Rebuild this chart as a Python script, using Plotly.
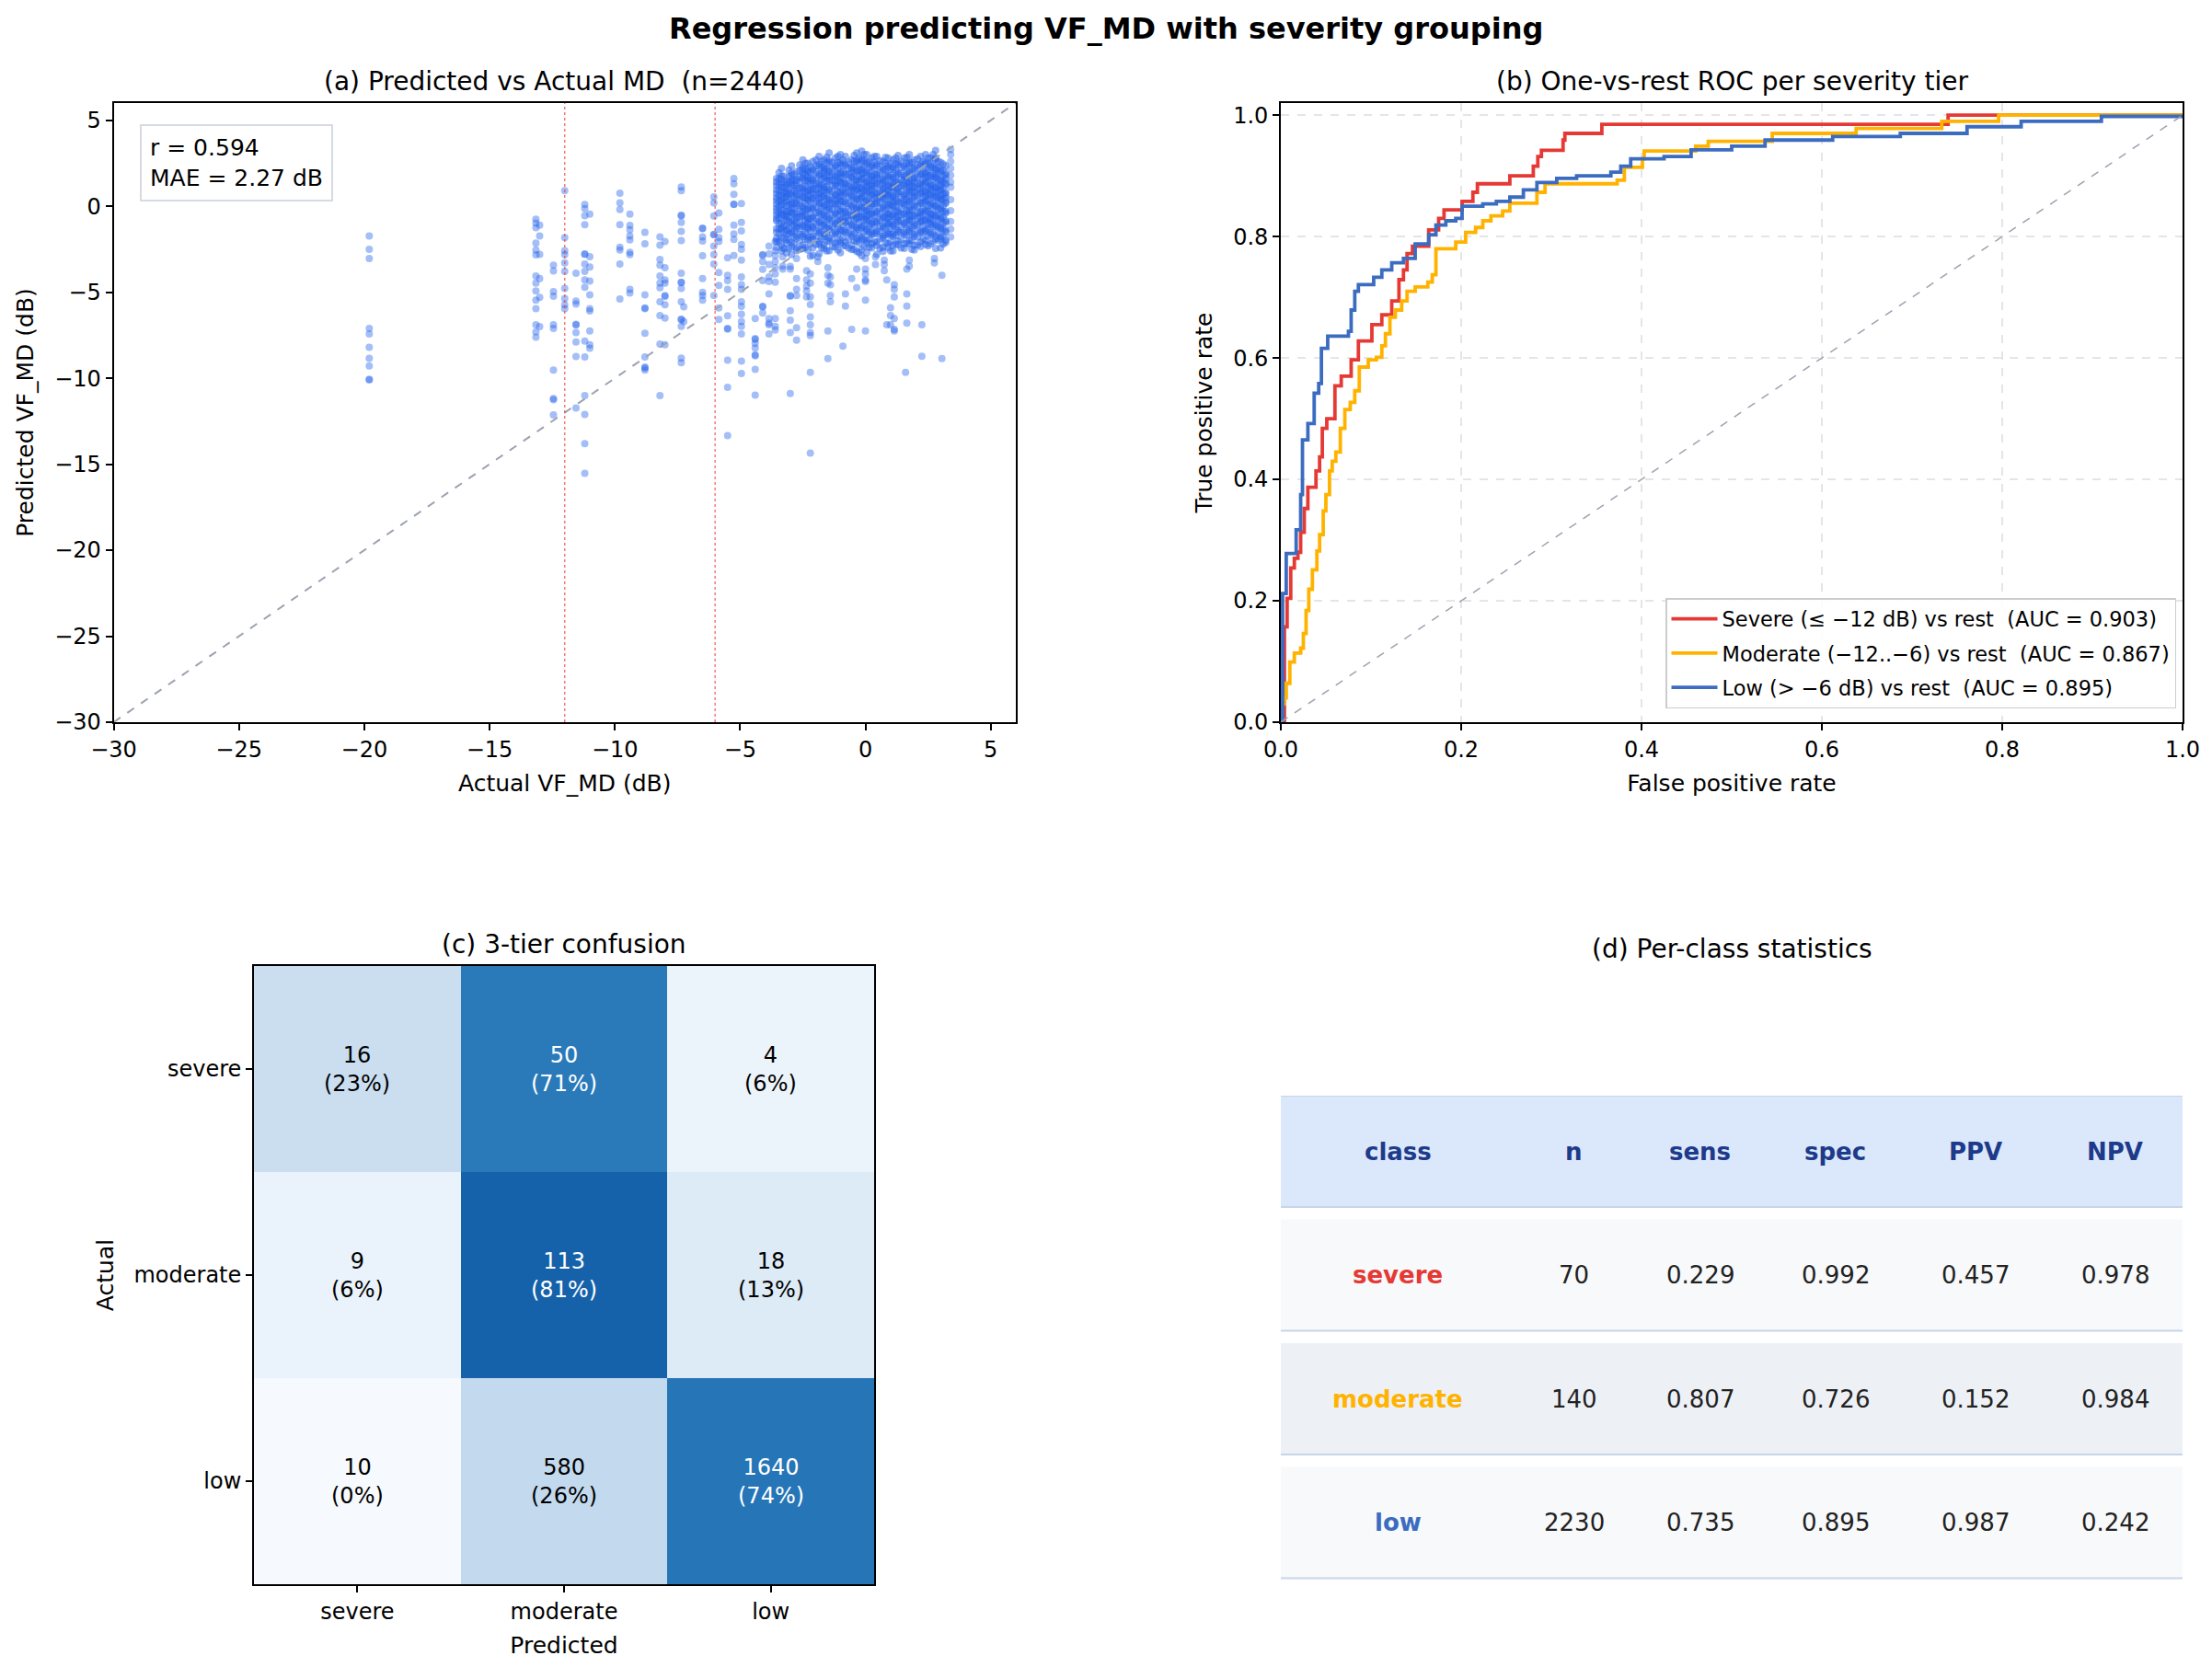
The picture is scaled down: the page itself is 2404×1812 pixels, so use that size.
"""Regression predicting VF_MD with severity grouping: scatter, ROC, confusion, stats table."""
import plotly.express as px
import plotly.graph_objects as go

W, H = 2404, 1812
FONT = "DejaVu Sans"
POINT = "#2563eb"
DIAG = "#9ca3af"
THRESH = "#ef4444"
NAVY = "#1e3a8a"
CLASS_COLORS = {"severe": "#e53935", "moderate": "#ffb300", "low": "#3b6cc0"}

# ---- (a) predicted vs actual: points grouped by actual-MD column ----
SPARSE_X = [-19.8, -13.15, -13.0, -12.45, -12.0, -11.55, -11.2, -11.0, -9.8, -9.4,
            -8.8, -8.2, -8.0, -7.35, -7.25, -6.5, -6.05, -5.85, -5.5, -5.25,
            -4.95, -4.4, -4.1, -3.85, -3.6, -3.3, -3.0, -2.75, -2.35, -2.2,
            -1.9, -1.5, -1.4, -0.9, -0.8, -0.55, -0.35, 0.0, 0.4, 0.75,
            0.85, 1.0, 1.15, 1.6, 1.65, 1.75, 2.25, 2.75, 3.05, 3.4]
SPARSE_Y = [
    [-1.73, -2.5, -3.04, -7.11, -7.43, -8.2, -8.85, -9.28, -10.06, -10.1],
    [-0.75, -0.98, -1.25, -2.14, -2.55, -2.82, -4.06, -4.47, -4.92, -5.46, -5.96, -6.89, -7.3, -7.61],
    [-1.1, -1.73, -2.8, -4.2, -5.3, -7.0],
    [-3.43, -3.76, -4.96, -5.23, -6.89, -7.11, -9.53, -11.19, -11.25, -12.13],
    [0.9, -1.82, -2.59, -2.81, -3.29, -3.79, -4.78, -5.37, -5.73, -5.96],
    [-3.9, -5.51, -5.69, -6.86, -6.9, -7.34, -7.9, -8.74, -11.73],
    [0.1, -0.14, -0.55, -1.07, -2.77, -2.8, -3.36, -3.79, -4.29, -4.71, -7.84, -8.77, -11.01, -12.11, -13.81, -15.53],
    [-0.46, -2.93, -3.54, -4.35, -5.15, -5.96, -6.09, -7.25, -8.06, -8.25],
    [0.76, 0.19, -0.19, -1.07, -2.38, -2.54, -3.36, -5.39],
    [-0.46, -1.12, -1.37, -1.73, -1.96, -2.68, -2.81, -4.83, -5.05],
    [-1.52, -2.18, -5.15, -5.91, -5.95, -7.39, -8.77, -9.35, -9.4, -9.53],
    [-1.78, -2.27, -3.09, -3.43, -4.06, -4.47, -4.74, -5.55, -6.35, -8.02, -11.01],
    [-2.05, -3.58, -4.29, -4.47, -5.19, -5.25, -5.73, -6.5, -8.05],
    [1.12, 0.9, -0.53, -0.55, -0.94, -1.46, -2.0, -3.9, -4.42, -4.45, -4.78, -5.55, -6.57, -6.6, -6.98, -8.83, -9.1],
    [-5.85, -6.7],
    [-1.28, -1.3, -1.78, -2.02, -2.88, -4.2, -5.01, -5.19, -5.46],
    [0.54, 0.19, -0.57, -1.64, -1.66, -2.32, -2.81, -3.36, -5.19],
    [-0.39, -1.34, -1.82, -2.05, -3.85, -4.6, -5.91, -6.59],
    [-3.0, -4.02, -4.33, -4.83, -6.37, -7.11, -7.15, -8.95, -10.53, -13.34],
    [1.62, 1.3, 0.69, 0.1, 0.12, -1.1, -1.61, -1.93, -2.86],
    [0.15, -0.94, -1.43, -2.23, -2.5, -3.13, -4.11, -4.56, -4.83, -5.55, -5.82, -6.27, -6.71, -6.98, -7.43, -9.01, -9.72],
    [-6.53, -7.7, -7.75, -7.97, -8.24, -8.65, -8.7, -9.49, -10.98],
    [-2.81, -2.85, -3.22, -3.67, -4.33, -5.82, -5.85, -6.21],
    [-2.32, -2.77, -3.39, -4.11, -4.38, -5.1, -6.53, -6.8, -6.89, -7.43],
    [-2.05, -2.59, -2.86, -3.22, -3.57, -3.93, -4.42, -6.53, -6.98, -7.2],
    [-2.41, -2.95, -3.48, -3.66],
    [-3.49, -3.66, -5.19, -5.23, -6.08, -6.62, -7.34, -10.89],
    [-3.04, -4.2, -4.83, -5.19, -7.07, -7.79],
    [-3.75, -4.29, -4.65, -4.92, -5.28],
    [-3.93, -4.47, -5.28, -5.72, -6.44, -6.89, -7.34, -7.52, -9.66, -14.35],
    [-2.95, -3.22],
    [-3.57, -4.02, -4.47, -7.25, -8.86],
    [-4.11, -4.56, -5.19, -5.55],
    [-8.14],
    [-5.1, -5.81],
    [-4.2, -7.16],
    [-3.66, -4.74],
    [-3.04, -3.66, -3.93, -4.29, -4.38, -5.46, -7.25],
    [-2.95, -3.39],
    [-3.13, -3.39, -3.75],
    [-4.29, -6.89],
    [-5.9, -6.35, -6.89],
    [-4.56, -4.83, -5.28, -6.53, -7.16, -7.25],
    [-9.66],
    [-3.66, -5.1, -5.81, -6.8],
    [-3.13, -3.48],
    [-6.89, -8.73],
    [-3.04, -3.3],
    [-4.02, -8.86],
    [3.3, 3.0, 2.6, 2.2, 1.8, 1.4, 1.1, 0.38, -0.26, -0.89, -1.33, -1.78],
]

# the dense cluster of near-normal eyes (actual MD -3.6 .. 3.2 dB), two interleaved column sets
BLOB_X = [-3.55, -3.35, -3.15, -2.95, -2.75, -2.5, -2.3, -2.1, -1.85, -1.65, -1.45,
          -1.2, -1.0, -0.8, -0.55, -0.35, -0.15, 0.05, 0.25, 0.45, 0.7, 0.9,
          1.1, 1.3, 1.55, 1.75, 1.95, 2.2, 2.4, 2.6, 2.8, 3.0, 3.2]
BLOB_Y = [
    [1.62, 1.2, 0.95, 0.51, 0.33, -0.1, -0.28, -0.71, -0.85, -1.3, -1.52, -1.88, -2.4, 0.74, -0.5, 1.4, -2.05, 0.12],
    [2.2, 1.76, 1.58, 1.1, 0.88, 0.61, 0.25, 0.07, -0.44, -0.52, -0.97, -1.26, -1.35, -1.81, -2.22, 1.31, -0.2, -2.6, 0.42],
    [1.45, 1.27, 0.83, 0.7, 0.29, 0.02, -0.31, -0.62, -0.78, -1.15, -1.4, -1.95, -2.13, -2.7, 1.05, -0.47, 0.55, -1.62],
    [2.35, 1.94, 1.77, 1.36, 1.22, 0.8, 0.66, 0.24, 0.11, -0.34, -0.41, -0.86, -1.01, -1.46, -1.58, -2.09, -2.37, -2.81, 1.52, -0.12],
    [2.02, 1.59, 1.48, 1.04, 0.79, 0.62, 0.15, 0.04, -0.38, -0.61, -0.69, -1.2, -1.29, -1.72, -1.86, -2.44, -2.58, 1.2, -0.98, 0.41],
    [2.7, 2.28, 2.12, 1.69, 1.58, 1.13, 1.01, 0.57, 0.48, 0.02, -0.08, -0.53, -0.6, -1.09, -1.18, -1.63, -1.75, -2.27, -2.47, 0.84, -0.32, 1.92],
    [2.5, 2.09, 1.97, 1.53, 1.41, 0.97, 0.86, 0.41, 0.31, -0.13, -0.22, -0.68, -0.78, -1.24, -1.33, -1.8, -1.96, -2.55, 1.71, -0.95, 0.62],
    [2.6, 2.17, 2.05, 1.61, 1.5, 1.04, 0.94, 0.49, 0.38, -0.06, -0.15, -0.61, -0.7, -1.17, -1.26, -1.74, -1.89, -2.42, -2.85, 0.73, 1.28],
    [2.9, 2.46, 2.33, 1.89, 1.79, 1.34, 1.23, 0.79, 0.68, 0.24, 0.13, -0.31, -0.41, -0.87, -0.97, -1.43, -1.55, -2.05, -2.21, -2.76, 1.05, 0.46],
    [2.7, 2.27, 2.16, 1.71, 1.61, 1.16, 1.06, 0.61, 0.51, 0.06, -0.03, -0.49, -0.59, -1.05, -1.15, -1.62, -1.75, -2.26, -2.46, 0.9, 2.02],
    [3.1, 2.66, 2.53, 2.08, 1.97, 1.52, 1.42, 0.97, 0.87, 0.42, 0.32, -0.13, -0.23, -0.69, -0.79, -1.26, -1.36, -1.86, -2.03, -2.58, 1.75, 0.15],
    [2.8, 2.37, 2.26, 1.81, 1.71, 1.26, 1.16, 0.71, 0.61, 0.16, 0.06, -0.39, -0.49, -0.95, -1.05, -1.52, -1.64, -2.16, -2.38, 0.38, 1.48],
    [3.0, 2.56, 2.44, 1.99, 1.89, 1.44, 1.34, 0.89, 0.79, 0.34, 0.24, -0.21, -0.31, -0.77, -0.87, -1.34, -1.45, -1.96, -2.15, -2.7, 0.57, 1.65],
    [2.9, 2.47, 2.36, 1.91, 1.81, 1.36, 1.26, 0.81, 0.71, 0.26, 0.16, -0.29, -0.39, -0.85, -0.95, -1.42, -1.54, -2.08, -2.3, 1.1, -0.62],
    [2.7, 2.28, 2.17, 1.72, 1.62, 1.17, 1.07, 0.62, 0.52, 0.07, -0.03, -0.48, -0.58, -1.04, -1.14, -1.61, -1.74, -2.28, -2.52, 0.92, 1.95],
    [3.1, 2.67, 2.55, 2.1, 2.0, 1.55, 1.45, 1.0, 0.9, 0.45, 0.35, -0.1, -0.2, -0.66, -0.76, -1.23, -1.35, -1.88, -2.05, -2.62, 1.22, -0.43],
    [3.2, 2.77, 2.65, 2.2, 2.1, 1.65, 1.55, 1.1, 1.0, 0.55, 0.45, 0.0, -0.1, -0.56, -0.66, -1.13, -1.25, -1.78, -1.95, -2.5, -2.88, 0.77, 1.88],
    [3.0, 2.57, 2.45, 2.0, 1.9, 1.45, 1.35, 0.9, 0.8, 0.35, 0.25, -0.2, -0.3, -0.76, -0.86, -1.33, -1.45, -1.98, -2.15, -2.7, 1.15, -0.55],
    [2.8, 2.37, 2.25, 1.8, 1.7, 1.25, 1.15, 0.7, 0.6, 0.15, 0.05, -0.4, -0.5, -0.96, -1.06, -1.53, -1.65, -2.18, -2.42, 0.95, 1.52],
    [2.9, 2.47, 2.35, 1.9, 1.8, 1.35, 1.25, 0.8, 0.7, 0.25, 0.15, -0.3, -0.4, -0.86, -0.96, -1.43, -1.55, -2.08, -2.28, -2.8, 0.5, 1.62],
    [2.6, 2.17, 2.05, 1.6, 1.5, 1.05, 0.95, 0.5, 0.4, -0.05, -0.15, -0.6, -0.7, -1.16, -1.26, -1.73, -1.85, -2.38, -2.62, 0.72, 1.33],
    [2.8, 2.38, 2.26, 1.81, 1.71, 1.26, 1.16, 0.71, 0.61, 0.16, 0.06, -0.39, -0.49, -0.95, -1.05, -1.52, -1.64, -2.17, -2.4, 0.88, -0.68],
    [2.7, 2.27, 2.15, 1.7, 1.6, 1.15, 1.05, 0.6, 0.5, 0.05, -0.05, -0.5, -0.6, -1.06, -1.16, -1.63, -1.75, -2.28, -2.6, 1.3, 0.32],
    [2.95, 2.52, 2.4, 1.95, 1.85, 1.4, 1.3, 0.85, 0.75, 0.3, 0.2, -0.25, -0.35, -0.81, -0.91, -1.38, -1.5, -2.03, -2.25, 1.08, -0.58],
    [2.8, 2.37, 2.25, 1.8, 1.7, 1.25, 1.15, 0.7, 0.6, 0.15, 0.05, -0.4, -0.5, -0.96, -1.06, -1.53, -1.65, -2.18, -2.45, 0.38, 1.52],
    [3.0, 2.57, 2.45, 2.0, 1.9, 1.45, 1.35, 0.9, 0.8, 0.35, 0.25, -0.2, -0.3, -0.76, -0.86, -1.33, -1.45, -1.98, -2.2, 1.12, -0.52],
    [2.7, 2.27, 2.15, 1.7, 1.6, 1.15, 1.05, 0.6, 0.5, 0.05, -0.05, -0.5, -0.6, -1.06, -1.16, -1.63, -1.75, -2.28, -2.55, 0.82, 1.4],
    [2.9, 2.47, 2.35, 1.9, 1.8, 1.35, 1.25, 0.8, 0.7, 0.25, 0.15, -0.3, -0.4, -0.86, -0.96, -1.43, -1.55, -2.08, -2.35, 1.05, -0.6],
    [3.0, 2.57, 2.45, 2.0, 1.9, 1.45, 1.35, 0.9, 0.8, 0.35, 0.25, -0.2, -0.3, -0.76, -0.86, -1.33, -1.45, -1.98, -2.22, 0.58, 1.68],
    [2.8, 2.37, 2.25, 1.8, 1.7, 1.25, 1.15, 0.7, 0.6, 0.15, 0.05, -0.4, -0.5, -0.96, -1.06, -1.53, -1.65, -2.18, 1.0, -0.72],
    [3.25, 2.82, 2.7, 2.25, 2.15, 1.7, 1.6, 1.15, 1.05, 0.6, 0.5, 0.05, -0.05, -0.51, -0.61, -1.08, -1.2, -1.73, -1.9, -2.45, 0.84, 1.9],
    [2.55, 2.12, 2.0, 1.55, 1.45, 1.0, 0.9, 0.45, 0.35, -0.1, -0.2, -0.65, -0.75, -1.21, -1.31, -1.78, -1.9, -2.43, 0.62, 1.22],
    [2.35, 1.92, 1.8, 1.35, 1.25, 0.8, 0.7, 0.25, 0.15, -0.3, -0.4, -0.85, -0.95, -1.41, -1.51, -1.98, -2.1, 0.5, 1.6],
]
BLOB2_X = [-3.45, -3.25, -3.05, -2.85, -2.62, -2.4, -2.2, -1.97, -1.75, -1.55, -1.32,
           -1.1, -0.9, -0.67, -0.45, -0.25, -0.05, 0.15, 0.35, 0.58, 0.8, 1.0,
           1.2, 1.42, 1.65, 1.85, 2.08, 2.3, 2.5, 2.7, 2.9, 3.1]
BLOB2_Y = [
    [1.95, 1.6, 1.25, 0.9, 0.62, 0.3, -0.05, -0.38, -0.66, -1.0, -1.3, -1.62, -2.05],
    [1.75, 1.4, 1.08, 0.78, 0.48, 0.15, -0.22, -0.52, -0.85, -1.18, -1.5, -1.85, -2.48],
    [2.1, 1.72, 1.38, 1.05, 0.72, 0.4, 0.08, -0.28, -0.6, -0.92, -1.28, -1.6, -2.0, -2.45],
    [1.85, 1.52, 1.2, 0.88, 0.52, 0.2, -0.12, -0.45, -0.8, -1.12, -1.45, -1.8, -2.2],
    [2.4, 2.05, 1.72, 1.4, 1.05, 0.72, 0.38, 0.05, -0.3, -0.62, -0.95, -1.3, -1.65, -2.05, -2.5],
    [2.5, 2.15, 1.82, 1.5, 1.15, 0.82, 0.48, 0.15, -0.2, -0.52, -0.86, -1.2, -1.55, -1.92, -2.4],
    [2.3, 1.96, 1.62, 1.3, 0.95, 0.62, 0.28, -0.06, -0.4, -0.74, -1.08, -1.42, -1.78, -2.18, -2.9],
    [2.7, 2.35, 2.0, 1.66, 1.32, 0.98, 0.65, 0.3, -0.04, -0.38, -0.72, -1.06, -1.42, -1.8, -2.22],
    [2.6, 2.25, 1.9, 1.56, 1.22, 0.88, 0.55, 0.2, -0.14, -0.48, -0.82, -1.16, -1.52, -1.9, -2.4],
    [2.85, 2.5, 2.15, 1.8, 1.46, 1.12, 0.78, 0.44, 0.1, -0.24, -0.58, -0.92, -1.28, -1.65, -2.05, -2.6],
    [2.55, 2.2, 1.86, 1.52, 1.18, 0.84, 0.5, 0.16, -0.18, -0.52, -0.86, -1.2, -1.56, -1.95, -2.35],
    [2.9, 2.55, 2.2, 1.85, 1.5, 1.16, 0.82, 0.48, 0.14, -0.2, -0.54, -0.88, -1.24, -1.62, -2.05, -2.55],
    [2.7, 2.35, 2.0, 1.65, 1.3, 0.96, 0.62, 0.28, -0.06, -0.4, -0.74, -1.08, -1.44, -1.82, -2.28],
    [2.55, 2.2, 1.86, 1.52, 1.18, 0.84, 0.5, 0.16, -0.18, -0.52, -0.86, -1.2, -1.56, -1.95, -2.42],
    [2.95, 2.6, 2.25, 1.9, 1.55, 1.2, 0.86, 0.52, 0.18, -0.16, -0.5, -0.84, -1.2, -1.58, -2.0, -2.5],
    [2.8, 2.45, 2.1, 1.75, 1.4, 1.06, 0.72, 0.38, 0.04, -0.3, -0.64, -0.98, -1.34, -1.72, -2.15, -2.7],
    [3.0, 2.65, 2.3, 1.95, 1.6, 1.26, 0.92, 0.58, 0.24, -0.1, -0.44, -0.78, -1.14, -1.52, -1.92, -2.35],
    [2.6, 2.25, 1.9, 1.55, 1.2, 0.86, 0.52, 0.18, -0.16, -0.5, -0.84, -1.18, -1.54, -1.92, -2.38],
    [2.9, 2.55, 2.2, 1.85, 1.5, 1.16, 0.82, 0.48, 0.14, -0.2, -0.54, -0.88, -1.24, -1.62, -2.08],
    [2.65, 2.3, 1.95, 1.6, 1.25, 0.9, 0.56, 0.22, -0.12, -0.46, -0.8, -1.14, -1.5, -1.9, -2.45],
    [2.85, 2.5, 2.15, 1.8, 1.45, 1.1, 0.76, 0.42, 0.08, -0.26, -0.6, -0.94, -1.3, -1.68, -2.12],
    [2.5, 2.15, 1.8, 1.45, 1.1, 0.76, 0.42, 0.08, -0.26, -0.6, -0.94, -1.28, -1.64, -2.05, -2.6],
    [2.8, 2.45, 2.1, 1.75, 1.4, 1.06, 0.72, 0.38, 0.04, -0.3, -0.64, -0.98, -1.34, -1.72, -2.2],
    [2.6, 2.25, 1.9, 1.55, 1.2, 0.86, 0.52, 0.18, -0.16, -0.5, -0.84, -1.18, -1.54, -1.94, -2.42],
    [2.85, 2.5, 2.15, 1.8, 1.45, 1.1, 0.76, 0.42, 0.08, -0.26, -0.6, -0.94, -1.3, -1.7, -2.15],
    [2.55, 2.2, 1.85, 1.5, 1.15, 0.8, 0.46, 0.12, -0.22, -0.56, -0.9, -1.24, -1.6, -2.0, -2.5],
    [2.75, 2.4, 2.05, 1.7, 1.35, 1.0, 0.66, 0.32, -0.02, -0.36, -0.7, -1.04, -1.4, -1.8, -2.25],
    [2.6, 2.25, 1.9, 1.55, 1.2, 0.86, 0.52, 0.18, -0.16, -0.5, -0.84, -1.18, -1.54, -1.94],
    [2.8, 2.45, 2.1, 1.75, 1.4, 1.06, 0.72, 0.38, 0.04, -0.3, -0.64, -0.98, -1.34, -1.74, -2.3],
    [3.0, 2.62, 2.25, 1.9, 1.55, 1.2, 0.86, 0.52, 0.18, -0.16, -0.5, -0.84, -1.2, -1.6, -2.05],
    [2.6, 2.25, 1.9, 1.55, 1.2, 0.86, 0.52, 0.18, -0.16, -0.5, -0.84, -1.18, -1.55, -1.98],
    [2.45, 2.1, 1.75, 1.4, 1.05, 0.72, 0.38, 0.04, -0.3, -0.64, -0.98, -1.34, -1.75, -2.2],
]
AXIS_LIM = [-30, 6]
AXIS_TICKS = [-30, -25, -20, -15, -10, -5, 0, 5]
THRESHOLDS = [-12, -6]
R_VALUE, MAE = 0.594, 2.27
N_EYES = 2440

# ---- (b) one-vs-rest ROC, corners of each step curve ----
SEV_FPR = [0, 0.004, 0.007, 0.011, 0.015, 0.019, 0.022, 0.026, 0.030, 0.039, 0.043, 0.046, 0.051,
           0.060, 0.067, 0.078, 0.086, 0.101, 0.112, 0.123, 0.131, 0.136, 0.140, 0.146, 0.164, 0.175,
           0.181, 0.201, 0.213, 0.218, 0.254, 0.280, 0.285, 0.289, 0.313, 0.315, 0.356, 0.740, 1.0]
SEV_TPR = [0, 0.157, 0.204, 0.254, 0.270, 0.280, 0.313, 0.352, 0.387, 0.414, 0.437, 0.484, 0.500,
           0.554, 0.570, 0.597, 0.628, 0.655, 0.671, 0.694, 0.729, 0.745, 0.772, 0.784, 0.811, 0.830,
           0.844, 0.858, 0.873, 0.887, 0.900, 0.916, 0.932, 0.942, 0.959, 0.970, 0.985, 1.0, 1.0]
MOD_FPR = [0, 0.0015, 0.004, 0.006, 0.010, 0.015, 0.022, 0.025, 0.028, 0.031, 0.035, 0.040, 0.043,
           0.047, 0.050, 0.054, 0.057, 0.061, 0.066, 0.071, 0.077, 0.082, 0.087, 0.097, 0.106, 0.112,
           0.116, 0.121, 0.127, 0.134, 0.140, 0.149, 0.163, 0.168, 0.172, 0.194, 0.205, 0.216, 0.224,
           0.233, 0.246, 0.254, 0.284, 0.293, 0.373, 0.381, 0.401, 0.403, 0.460, 0.474, 0.545, 0.638,
           0.733, 0.796, 1.0]
MOD_TPR = [0, 0.030, 0.040, 0.064, 0.099, 0.114, 0.122, 0.146, 0.184, 0.219, 0.251, 0.282, 0.309,
           0.348, 0.375, 0.414, 0.430, 0.445, 0.484, 0.515, 0.527, 0.546, 0.585, 0.597, 0.601, 0.620,
           0.640, 0.667, 0.679, 0.694, 0.710, 0.717, 0.725, 0.737, 0.780, 0.791, 0.807, 0.815, 0.826,
           0.834, 0.842, 0.855, 0.873, 0.887, 0.893, 0.914, 0.928, 0.941, 0.949, 0.957, 0.970, 0.978,
           0.990, 1.0, 1.0]
LOW_FPR = [0, 0.002, 0.006, 0.017, 0.022, 0.024, 0.030, 0.037, 0.042, 0.045, 0.052, 0.075, 0.078,
           0.082, 0.086, 0.103, 0.112, 0.123, 0.136, 0.149, 0.164, 0.172, 0.183, 0.194, 0.201, 0.224,
           0.239, 0.254, 0.269, 0.284, 0.306, 0.328, 0.366, 0.377, 0.388, 0.425, 0.455, 0.500, 0.537,
           0.612, 0.687, 0.761, 0.821, 0.910, 1.0]
LOW_TPR = [0, 0.212, 0.278, 0.317, 0.375, 0.465, 0.492, 0.542, 0.558, 0.616, 0.636, 0.644, 0.679,
           0.710, 0.721, 0.733, 0.745, 0.757, 0.764, 0.788, 0.803, 0.819, 0.826, 0.830, 0.850, 0.854,
           0.858, 0.865, 0.877, 0.889, 0.896, 0.900, 0.906, 0.916, 0.928, 0.932, 0.943, 0.949, 0.959,
           0.965, 0.970, 0.981, 0.990, 0.998, 1.0]
ROC_NAMES = ["Severe (\u2264 \u221212 dB) vs rest \u00a0(AUC = 0.903)",
             "Moderate (\u221212..\u22126) vs rest \u00a0(AUC = 0.867)",
             "Low (> \u22126 dB) vs rest \u00a0(AUC = 0.895)"]
ROC_TICKS = [0.0, 0.2, 0.4, 0.6, 0.8, 1.0]

# ---- (c) confusion matrix, rows = actual, cols = predicted ----
TIERS = ["severe", "moderate", "low"]
CONFUSION = [[16, 50, 4],
             [9, 113, 18],
             [10, 580, 1640]]

# ---- (d) per-class statistics ----
STAT_HEADERS = ["class", "n", "sens", "spec", "PPV", "NPV"]
STAT_N = [70, 140, 2230]
STAT_SENS = [0.229, 0.807, 0.735]
STAT_SPEC = [0.992, 0.726, 0.895]
STAT_PPV = [0.457, 0.152, 0.987]
STAT_NPV = [0.978, 0.984, 0.242]
COL_WIDTHS = [0.26, 0.13, 0.15, 0.15, 0.16, 0.15]
ROW_FILLS = ["#dbe8fb", "#f7f9fb", "#edf1f6", "#f7f9fb"]


def px_x(a, b):
    return [a / W, b / W]


def px_y(top, bottom):
    return [1 - bottom / H, 1 - top / H]


def flatten(xs, ys):
    out_x, out_y = [], []
    for x, col in zip(xs, ys):
        out_x += [x] * len(col)
        out_y += col
    return out_x, out_y


AXIS = dict(showline=True, mirror=True, linecolor="black", linewidth=1.8, ticks="outside",
            ticklen=7, tickwidth=1.8, tickcolor="black", zeroline=False, showgrid=False,
            automargin=False,
            tickfont=dict(size=24, color="black"), title_font=dict(size=25, color="black"))

fig = go.Figure()

# (a) scatter: sparse tail, then the overplotted cluster
sx, sy = flatten(SPARSE_X, SPARSE_Y)
b1x, b1y = flatten(BLOB_X, BLOB_Y)
b2x, b2y = flatten(BLOB2_X, BLOB2_Y)
for xs, ys, alpha in ((sx, sy, 0.42), (b1x + b2x, b1y + b2y, 0.5)):
    fig.add_trace(go.Scatter(x=xs, y=ys, mode="markers", showlegend=False,
                             marker=dict(color=POINT, size=8, opacity=alpha, line=dict(width=0)),
                             xaxis="x", yaxis="y"))
fig.add_trace(go.Scatter(x=AXIS_LIM, y=AXIS_LIM, mode="lines", showlegend=False,
                         line=dict(color=DIAG, width=2, dash="dash"), xaxis="x", yaxis="y"))
for t in THRESHOLDS:
    fig.add_shape(type="line", xref="x", yref="y domain", x0=t, x1=t, y0=0, y1=1,
                  line=dict(color=THRESH, width=1.5, dash="dot"), opacity=0.7)

# (b) ROC
for fpr, tpr, name, cls in ((SEV_FPR, SEV_TPR, ROC_NAMES[0], "severe"),
                            (MOD_FPR, MOD_TPR, ROC_NAMES[1], "moderate"),
                            (LOW_FPR, LOW_TPR, ROC_NAMES[2], "low")):
    fig.add_trace(go.Scatter(x=fpr, y=tpr, mode="lines", name=name, legendgroup=cls, line_shape="hv",
                             line=dict(color=CLASS_COLORS[cls], width=3.8), xaxis="x2", yaxis="y2"))
fig.add_trace(go.Scatter(x=[0, 1], y=[0, 1], mode="lines", showlegend=False,
                         line=dict(color=DIAG, width=1.5, dash="dash"), xaxis="x2", yaxis="y2"))

# (c) confusion heatmap, coloured by row share
row_pct = [[v / sum(row) for v in row] for row in CONFUSION]
fig.add_trace(go.Heatmap(z=row_pct, x=TIERS, y=TIERS, zmin=0, zmax=1,
                         colorscale=px.colors.sequential.Blues, showscale=False,
                         hoverinfo="skip", xaxis="x3", yaxis="y3"))
for i, actual in enumerate(TIERS):
    for j, predicted in enumerate(TIERS):
        p = row_pct[i][j]
        fig.add_annotation(x=predicted, y=actual, xref="x3", yref="y3", showarrow=False,
                           text=f"{CONFUSION[i][j]}<br>({p:.0%})",
                           font=dict(size=24, color="white" if p > 0.5 else "black"))

# (d) stats table on a hidden axis
edges = [0]
for w in COL_WIDTHS:
    edges.append(edges[-1] + w)
centers = [(a + b) / 2 for a, b in zip(edges[:-1], edges[1:])]
for r, fill in enumerate(ROW_FILLS):
    fig.add_shape(type="rect", xref="x4", yref="y4", x0=0, x1=1, y0=r, y1=r + 0.9,
                  fillcolor=fill, line_width=0, layer="below")
    fig.add_shape(type="line", xref="x4", yref="y4", x0=0, x1=1, y0=r + 0.9, y1=r + 0.9,
                  line=dict(color="#c8d5e8", width=2))
fig.add_shape(type="line", xref="x4", yref="y4", x0=0, x1=1, y0=0, y1=0,
              line=dict(color="#c8d5e8", width=2))
for c, head in enumerate(STAT_HEADERS):
    fig.add_annotation(x=centers[c], y=0.45, xref="x4", yref="y4", showarrow=False,
                       text=f"<b>{head}</b>", font=dict(size=26, color=NAVY))
for r, cls in enumerate(TIERS):
    cells = [f"<b>{cls}</b>", str(STAT_N[r])] + [f"{v[r]:.3f}" for v in (STAT_SENS, STAT_SPEC, STAT_PPV, STAT_NPV)]
    for c, txt in enumerate(cells):
        fig.add_annotation(x=centers[c], y=r + 1.45, xref="x4", yref="y4", showarrow=False,
                           text=txt, font=dict(size=26, color=CLASS_COLORS[cls] if c == 0 else "#222222"))

# titles and stat box
TITLES = [("<b>Regression predicting VF_MD with severity grouping</b>", 0.5, 31, 32),
          (f"(a) Predicted vs Actual MD \u00a0(n={N_EYES})", 613.5 / W, 89, 28),
          ("(b) One-vs-rest ROC per severity tier", 1882 / W, 89, 28),
          ("(c) 3-tier confusion", 613 / W, 1026, 28),
          ("(d) Per-class statistics", 1882 / W, 1031, 28)]
for text, x, y, size in TITLES:
    fig.add_annotation(x=x, y=1 - y / H, xref="paper", yref="paper", showarrow=False,
                       text=text, font=dict(size=size, color="black"), xanchor="center", yanchor="middle")
fig.add_annotation(x=0.029, y=0.966, xref="x domain", yref="y domain", showarrow=False,
                   xanchor="left", yanchor="top", align="left",
                   text=f"r = {R_VALUE:.3f}<br>MAE = {MAE:.2f} dB",
                   font=dict(size=25, color="black"), bgcolor="white",
                   bordercolor="#d6dae1", borderwidth=2, borderpad=9)

fig.update_layout(
    width=W, height=H, margin=dict(l=0, r=0, t=0, b=0, autoexpand=False),
    paper_bgcolor="white", plot_bgcolor="white",
    font=dict(family=FONT, color="black", size=24),
    xaxis=dict(AXIS, domain=px_x(123.5, 1104), range=AXIS_LIM, tickvals=AXIS_TICKS,
               title_text="Actual VF_MD (dB)", anchor="y"),
    yaxis=dict(AXIS, domain=px_y(112, 785), range=AXIS_LIM, tickvals=AXIS_TICKS,
               title_text="Predicted VF_MD (dB)", anchor="x"),
    xaxis2=dict(AXIS, domain=px_x(1392, 2372), range=[0, 1], tickvals=ROC_TICKS, tickformat=".1f",
                showgrid=True, gridcolor="#e5e5e5", griddash="dash", gridwidth=1.5,
                title_text="False positive rate", anchor="y2"),
    yaxis2=dict(AXIS, domain=px_y(112, 785), range=[0, 1.02], tickvals=ROC_TICKS, tickformat=".1f",
                showgrid=True, gridcolor="#e5e5e5", griddash="dash", gridwidth=1.5,
                title_text="True positive rate", anchor="x2"),
    xaxis3=dict(AXIS, domain=px_x(276, 950), title_text="Predicted", anchor="y3"),
    yaxis3=dict(AXIS, domain=px_y(1050, 1722), autorange="reversed", title_text="Actual", anchor="x3"),
    xaxis4=dict(domain=px_x(1392, 2372), range=[0, 1], visible=False, anchor="y4"),
    yaxis4=dict(domain=px_y(1191, 1729), range=[4, 0], visible=False, anchor="x4"),
    legend=dict(x=2365 / W, y=1 - 770 / H, xanchor="right", yanchor="bottom",
                bgcolor="rgba(255,255,255,0.9)", bordercolor="#cccccc", borderwidth=1.5,
                itemwidth=50, tracegroupgap=5, font=dict(size=22.5, color="black")),
)

fig.write_html("out.html", config={"displayModeBar": False},
               post_script="document.body.style.margin='0';")
